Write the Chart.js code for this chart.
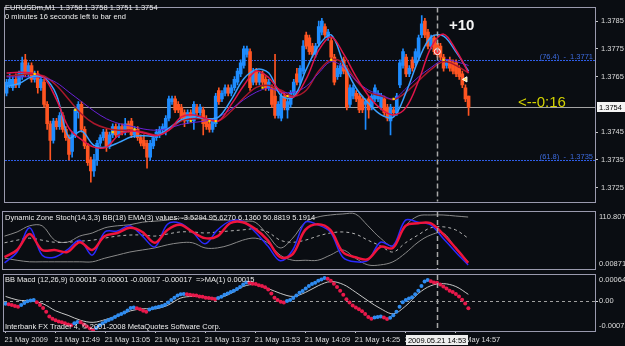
<!DOCTYPE html>
<html>
<head>
<meta charset="utf-8">
<script src="https://cdn.jsdelivr.net/npm/chart.js@4.4.1/dist/chart.umd.min.js"></script>
<style>
  html, body { margin: 0; padding: 0; background: #0a0d12; }
  #wrap { position: relative; width: 625px; height: 346px; overflow: hidden; background: #0a0d12; font-family: 'Liberation Sans', Arial, sans-serif; }
  #wrap canvas { position: absolute; left: 0; }
  .txt { position: absolute; white-space: nowrap; color: #ececec; font-size: 7.5px; line-height: 9px; pointer-events: none; }
</style>
</head>
<body>
<div id="wrap">
  <canvas id="priceChart" width="625" height="209" style="top:0"></canvas>
  <canvas id="stochChart" width="625" height="62" style="top:209px"></canvas>
  <canvas id="macdChart" width="625" height="75" style="top:271px"></canvas>
  <div class="txt" style="left:5px;top:3px">EURUSDm,M1&nbsp; 1.3758 1.3758 1.3751 1.3754</div>
  <div class="txt" style="left:5px;top:12px">0 minutes 16 seconds left to bar end</div>
  <div class="txt" style="left:449px;top:16px;font:bold 15px 'Liberation Sans',Arial,sans-serif;line-height:18px;color:#f4f4f4">+10</div>
  <div class="txt" style="left:518px;top:93px;font:15px 'Liberation Sans',Arial,sans-serif;line-height:18px;color:#d2d200">&lt;--0:16</div>
  <div class="txt" style="left:5px;top:213px">Dynamic Zone Stoch(14,3,3) BB(18) EMA(3) values: -3.5294 95.6270 6.1360 50.8819 5.1914</div>
  <div class="txt" style="left:5px;top:275px">BB Macd (12,26,9) 0.00015 -0.00001 -0.00017 -0.00017&nbsp; =&gt;MA(1) 0.00015</div>
  <div class="txt" style="left:5px;top:322px">Interbank FX Trader 4, © 2001-2008 MetaQuotes Software Corp.</div>
</div>
<script>
// EURUSDm M1, 21 May 2009, bars from 12:33
const barOpen = [
  1.3759, 1.3762, 1.3761, 1.3764, 1.3762, 1.3765, 1.3771, 1.3766, 1.3769, 1.3764,
  1.3766, 1.3761, 1.3763, 1.3755, 1.3748, 1.3742, 1.3749, 1.3747, 1.3751, 1.3746,
  1.3743, 1.3738, 1.3744, 1.3752, 1.3755, 1.3746, 1.3740, 1.3735, 1.3731, 1.3735,
  1.3741, 1.3743, 1.3745, 1.3740, 1.3744, 1.3747, 1.3744, 1.3747, 1.3745, 1.3748,
  1.3749, 1.3744, 1.3746, 1.3743, 1.3742, 1.3741, 1.3736, 1.3740, 1.3743, 1.3744,
  1.3746, 1.3746, 1.3750, 1.3756, 1.3757, 1.3755, 1.3754, 1.3752, 1.3749, 1.3752,
  1.3749, 1.3754, 1.3752, 1.3753, 1.3750, 1.3748, 1.3746, 1.3748, 1.3760, 1.3757,
  1.3759, 1.3761, 1.3759, 1.3761, 1.3763, 1.3766, 1.3769, 1.3773, 1.3774, 1.3763,
  1.3767, 1.3763, 1.3766, 1.3764, 1.3761, 1.3761, 1.3758, 1.3751, 1.3750, 1.3758,
  1.3753, 1.3755, 1.3759, 1.3766, 1.3763, 1.3767, 1.3780, 1.3779, 1.3776, 1.3773,
  1.3777, 1.3781, 1.3783, 1.3779, 1.3778, 1.3772, 1.3765, 1.3766, 1.3771, 1.3768,
  1.3755, 1.3758, 1.3759, 1.3758, 1.3757, 1.3755, 1.3757, 1.3754, 1.3757, 1.3757,
  1.3754, 1.3757, 1.3754, 1.3749, 1.3753, 1.3752, 1.3762, 1.3769, 1.3772, 1.3766,
  1.3771, 1.3770, 1.3772, 1.3780, 1.3785, 1.3781, 1.3776, 1.3779, 1.3777, 1.3776,
  1.3772, 1.3769, 1.3771, 1.3770, 1.3770, 1.3768, 1.3766, 1.3761, 1.3758
];
const barHigh = [
  1.3764, 1.3766, 1.3765, 1.3766, 1.3767, 1.3772, 1.3773, 1.3770, 1.3770, 1.3767,
  1.3767, 1.3765, 1.3764, 1.3756, 1.3749, 1.3750, 1.3750, 1.3752, 1.3752, 1.3747,
  1.3744, 1.3745, 1.3754, 1.3756, 1.3756, 1.3747, 1.3741, 1.3736, 1.3737, 1.3742,
  1.3744, 1.3746, 1.3746, 1.3745, 1.3748, 1.3748, 1.3748, 1.3748, 1.3750, 1.3749,
  1.3750, 1.3747, 1.3747, 1.3744, 1.3744, 1.3742, 1.3742, 1.3744, 1.3746, 1.3747,
  1.3748, 1.3751, 1.3758, 1.3758, 1.3758, 1.3756, 1.3755, 1.3753, 1.3753, 1.3753,
  1.3756, 1.3755, 1.3755, 1.3754, 1.3751, 1.3749, 1.3750, 1.3759, 1.3761, 1.3760,
  1.3762, 1.3762, 1.3762, 1.3765, 1.3768, 1.3771, 1.3776, 1.3776, 1.3775, 1.3768,
  1.3768, 1.3767, 1.3767, 1.3765, 1.3764, 1.3762, 1.3773, 1.3756, 1.3759, 1.3759,
  1.3757, 1.3760, 1.3764, 1.3768, 1.3769, 1.3778, 1.3781, 1.3780, 1.3777, 1.3777,
  1.3785, 1.3786, 1.3784, 1.3782, 1.3779, 1.3773, 1.3769, 1.3770, 1.3772, 1.3769,
  1.3762, 1.3762, 1.3760, 1.3759, 1.3758, 1.3757, 1.3758, 1.3759, 1.3762, 1.3760,
  1.3759, 1.3758, 1.3755, 1.3755, 1.3754, 1.3759, 1.3771, 1.3775, 1.3773, 1.3769,
  1.3772, 1.3775, 1.3780, 1.3787, 1.3786, 1.3782, 1.3780, 1.3780, 1.3778, 1.3777,
  1.3773, 1.3771, 1.3772, 1.3771, 1.3771, 1.3769, 1.3767, 1.3762, 1.3758
];
const barLow = [
  1.3758, 1.3761, 1.3760, 1.3761, 1.3761, 1.3764, 1.3765, 1.3765, 1.3763, 1.3763,
  1.3759, 1.3760, 1.3754, 1.3746, 1.3735, 1.3741, 1.3746, 1.3746, 1.3745, 1.3742,
  1.3735, 1.3736, 1.3743, 1.3750, 1.3745, 1.3739, 1.3733, 1.3727, 1.3729, 1.3733,
  1.3740, 1.3742, 1.3738, 1.3739, 1.3743, 1.3743, 1.3743, 1.3744, 1.3744, 1.3745,
  1.3743, 1.3743, 1.3742, 1.3740, 1.3739, 1.3732, 1.3735, 1.3739, 1.3742, 1.3743,
  1.3745, 1.3744, 1.3749, 1.3755, 1.3752, 1.3752, 1.3749, 1.3747, 1.3748, 1.3749,
  1.3746, 1.3751, 1.3751, 1.3744, 1.3746, 1.3745, 1.3745, 1.3747, 1.3755, 1.3756,
  1.3758, 1.3758, 1.3758, 1.3760, 1.3762, 1.3765, 1.3768, 1.3772, 1.3760, 1.3762,
  1.3762, 1.3762, 1.3762, 1.3760, 1.3760, 1.3754, 1.3750, 1.3750, 1.3749, 1.3753,
  1.3750, 1.3754, 1.3758, 1.3762, 1.3762, 1.3766, 1.3775, 1.3773, 1.3772, 1.3772,
  1.3776, 1.3780, 1.3779, 1.3778, 1.3771, 1.3762, 1.3764, 1.3765, 1.3766, 1.3753,
  1.3754, 1.3757, 1.3756, 1.3752, 1.3752, 1.3746, 1.3750, 1.3753, 1.3756, 1.3756,
  1.3753, 1.3751, 1.3749, 1.3744, 1.3751, 1.3751, 1.3761, 1.3768, 1.3765, 1.3765,
  1.3767, 1.3769, 1.3771, 1.3779, 1.3779, 1.3775, 1.3775, 1.3773, 1.3772, 1.3771,
  1.3767, 1.3768, 1.3767, 1.3766, 1.3765, 1.3764, 1.3761, 1.3756, 1.3751
];
const barClose = [
  1.3763, 1.3764, 1.3764, 1.3762, 1.3766, 1.3770, 1.3766, 1.3769, 1.3764, 1.3766,
  1.3761, 1.3764, 1.3755, 1.3748, 1.3742, 1.3749, 1.3747, 1.3751, 1.3746, 1.3743,
  1.3737, 1.3744, 1.3753, 1.3755, 1.3746, 1.3740, 1.3734, 1.3731, 1.3735, 1.3741,
  1.3743, 1.3745, 1.3740, 1.3744, 1.3747, 1.3744, 1.3747, 1.3745, 1.3748, 1.3746,
  1.3744, 1.3746, 1.3743, 1.3741, 1.3740, 1.3736, 1.3741, 1.3743, 1.3745, 1.3746,
  1.3747, 1.3750, 1.3757, 1.3757, 1.3753, 1.3753, 1.3750, 1.3749, 1.3752, 1.3750,
  1.3755, 1.3752, 1.3754, 1.3748, 1.3747, 1.3746, 1.3749, 1.3758, 1.3756, 1.3759,
  1.3761, 1.3759, 1.3761, 1.3764, 1.3767, 1.3770, 1.3775, 1.3775, 1.3761, 1.3767,
  1.3763, 1.3766, 1.3763, 1.3761, 1.3763, 1.3755, 1.3751, 1.3755, 1.3758, 1.3754,
  1.3756, 1.3759, 1.3763, 1.3763, 1.3768, 1.3776, 1.3776, 1.3774, 1.3773, 1.3776,
  1.3783, 1.3785, 1.3780, 1.3781, 1.3772, 1.3763, 1.3768, 1.3769, 1.3767, 1.3754,
  1.3761, 1.3761, 1.3757, 1.3753, 1.3753, 1.3756, 1.3753, 1.3758, 1.3761, 1.3759,
  1.3758, 1.3752, 1.3750, 1.3754, 1.3752, 1.3758, 1.3770, 1.3774, 1.3766, 1.3768,
  1.3768, 1.3774, 1.3779, 1.3784, 1.3780, 1.3776, 1.3779, 1.3774, 1.3773, 1.3772,
  1.3768, 1.3770, 1.3768, 1.3767, 1.3766, 1.3765, 1.3762, 1.3757, 1.3754
];

// moving averages, read every 4th bar (bar 0, 4, 8 ... 148)
const maFast = [
  1.37615, 1.37625, 1.37649, 1.37646, 1.37584, 1.37430, 1.37454, 1.37402, 1.37396, 1.37413,
  1.37433, 1.37437, 1.37437, 1.37464, 1.37495, 1.37505, 1.37498, 1.37505, 1.37567, 1.37642,
  1.37676, 1.37663, 1.37580, 1.37577, 1.37676, 1.37762, 1.37800, 1.37697, 1.37608, 1.37553,
  1.37512, 1.37505, 1.37594, 1.37711, 1.37793, 1.37796, 1.37738, 1.37670
];
const maMid = [
  1.37663, 1.37666, 1.37663, 1.37646, 1.37567, 1.37464, 1.37423, 1.37396, 1.37396, 1.37440,
  1.37454, 1.37447, 1.37437, 1.37457, 1.37505, 1.37512, 1.37498, 1.37491, 1.37550, 1.37618,
  1.37670, 1.37646, 1.37594, 1.37577, 1.37642, 1.37745, 1.37793, 1.37731, 1.37649, 1.37580,
  1.37533, 1.37512, 1.37539, 1.37635, 1.37755, 1.37803, 1.37745, 1.37663
];
const maSlow = [
  1.37652, 1.37656, 1.37659, 1.37652, 1.37618, 1.37567, 1.37515, 1.37481, 1.37464, 1.37457,
  1.37457, 1.37450, 1.37440, 1.37457, 1.37491, 1.37498, 1.37498, 1.37491, 1.37526, 1.37574,
  1.37611, 1.37618, 1.37601, 1.37580, 1.37601, 1.37670, 1.37711, 1.37697, 1.37635, 1.37594,
  1.37580, 1.37567, 1.37594, 1.37635, 1.37676, 1.37704, 1.37690, 1.37663
];
const maLong = [
  1.37649, 1.37649, 1.37649, 1.37646, 1.37628, 1.37594, 1.37560, 1.37526, 1.37498, 1.37481,
  1.37471, 1.37461, 1.37457, 1.37464, 1.37478, 1.37485, 1.37491, 1.37505, 1.37533, 1.37567,
  1.37594, 1.37608, 1.37594, 1.37594, 1.37615, 1.37663, 1.37704, 1.37683, 1.37635, 1.37601,
  1.37584, 1.37570, 1.37608, 1.37649, 1.37683, 1.37711, 1.37704, 1.37690
];
const crossBars = [9, 22, 34, 41, 59, 65, 67, 82, 90, 104, 124, 140];
const crossPrices = [1.3766, 1.3753, 1.3745, 1.3746, 1.3749, 1.3749, 1.3749, 1.3761, 1.3758, 1.3771, 1.3757, 1.3771];
const arrowBars = [138, 147];
const arrowPrices = [1.3774, 1.3764];

const fibNames = ['76.4', '61.8'];
const fibPrices = [1.3771, 1.3735];
const bidPrice = 1.3754;
const priceTicks = [1.3725, 1.3735, 1.3745, 1.3765, 1.3775, 1.3785];

// Dynamic Zone Stoch, every 4th bar
const stochMain = [
  12, 33, 80, 27, 23, 37, 56, 27, 72, 74, 84, 64, 43, 87, 89, 72, 49, 76, 93, 93,
  72, 45, 16, 37, 91, 86, 72, 23, 14, 17, 52, 45, 95, 91, 86, 60, 33, 8
];
const stochSignal = [
  23, 37, 68, 37, 37, 33, 52, 37, 64, 70, 80, 72, 51, 76, 86, 72, 60, 64, 89, 91,
  78, 56, 23, 29, 76, 87, 76, 33, 23, 19, 43, 41, 84, 89, 89, 68, 41, 12
];
const stochUpper = [
  64, 72, 84, 84, 56, 52, 64, 70, 80, 84, 86, 91, 93, 95, 99, 99, 97, 95, 95, 93,
  91, 66, 41, 60, 91, 101, 105, 107, 107, 84, 60, 45, 84, 103, 105, 105, 103, 101
];
const stochLower = [
  21, 17, 14, 14, 14, 14, 14, 14, 21, 27, 33, 37, 41, 47, 51, 51, 41, 41, 47, 56,
  60, 51, 27, 17, 17, 17, 27, 37, 21, 8, 8, 14, 31, 52, 66, 70, 41, 14
];
const stochMiddle = [
  51, 56, 60, 56, 52, 52, 54, 56, 60, 64, 66, 66, 64, 68, 72, 72, 70, 72, 74, 76,
  78, 72, 56, 52, 56, 64, 70, 72, 68, 56, 45, 33, 51, 66, 80, 82, 76, 60
];
const stochRange = [0.008719, 110.807];

// BB Macd, one value per bar
const macdValues = [
  -0.00006, -0.00007, -0.00009, -0.00011, -0.00013, -0.00009, -0.00004, 0.00000, 0.00002, 0.00003,
  -0.00002, -0.00009, -0.00016, -0.00025, -0.00037, -0.00042, -0.00046, -0.00049, -0.00051, -0.00053,
  -0.00056, -0.00058, -0.00053, -0.00050, -0.00051, -0.00056, -0.00061, -0.00066, -0.00070, -0.00065,
  -0.00058, -0.00053, -0.00049, -0.00045, -0.00042, -0.00038, -0.00034, -0.00031, -0.00027, -0.00022,
  -0.00016, -0.00015, -0.00017, -0.00019, -0.00023, -0.00025, -0.00020, -0.00017, -0.00015, -0.00013,
  -0.00011, -0.00008, -0.00003, 0.00003, 0.00009, 0.00014, 0.00017, 0.00018, 0.00017, 0.00016,
  0.00015, 0.00014, 0.00012, 0.00011, 0.00009, 0.00008, 0.00007, 0.00005, 0.00008, 0.00011,
  0.00016, 0.00019, 0.00023, 0.00026, 0.00030, 0.00035, 0.00041, 0.00046, 0.00045, 0.00043,
  0.00042, 0.00039, 0.00037, 0.00034, 0.00029, 0.00019, 0.00009, 0.00003, -0.00001, -0.00003,
  0.00001, 0.00003, 0.00008, 0.00014, 0.00021, 0.00025, 0.00031, 0.00037, 0.00042, 0.00045,
  0.00050, 0.00053, 0.00057, 0.00055, 0.00050, 0.00043, 0.00035, 0.00026, 0.00016, 0.00005,
  -0.00003, -0.00010, -0.00015, -0.00019, -0.00024, -0.00031, -0.00038, -0.00042, -0.00039, -0.00038,
  -0.00037, -0.00039, -0.00043, -0.00040, -0.00034, -0.00025, -0.00013, -0.00002, 0.00003, 0.00007,
  0.00010, 0.00017, 0.00026, 0.00037, 0.00048, 0.00052, 0.00049, 0.00046, 0.00045, 0.00041,
  0.00036, 0.00031, 0.00026, 0.00023, 0.00018, 0.00012, 0.00004, -0.00005, -0.00017
];
// its MA line, every 4th bar
const macdSignal = [
  0.00012, 0.00003, 0.00001, -0.00006, -0.00023, -0.00034, -0.00046, -0.00051, -0.00044, -0.00034,
  -0.00023, -0.00018, -0.00018, -0.00009, 0.00008, 0.00012, 0.00010, 0.00008, 0.00019, 0.00036,
  0.00041, 0.00031, 0.00019, 0.00012, 0.00022, 0.00038, 0.00048, 0.00041, 0.00022, 0.00001,
  -0.00018, -0.00030, -0.00011, 0.00019, 0.00038, 0.00043, 0.00036, 0.00017
];
const macdRange = [-0.00072, 0.00064];

const xTickLabels = [
  '21 May 2009', '21 May 12:49', '21 May 13:05', '21 May 13:21', '21 May 13:37',
  '21 May 13:53', '21 May 14:09', '21 May 14:25', '21 May 14:41', '21 May 14:57'
];
const tickEvery = 16;
const cursorBar = 138;
const cursorLabel = '2009.05.21 14:53';

// ---- layout helpers ----
const FONT = "'Liberation Sans', Arial, sans-serif";
const AXIS_TEXT = '#dcdcdc';
const FRAME = '#9a9aae';
const BULL = '#1e8cff';
const BEAR = '#ff5522';
const slotCount = 189; // bars + empty shift on the right

const categories = Array.from({ length: slotCount }, (_, i) => {
  const m = 12 * 60 + 33 + i;
  return String(Math.floor(m / 60)).padStart(2, '0') + ':' + String(m % 60).padStart(2, '0');
});
const every4 = values => {
  const out = new Array(barOpen.length).fill(null);
  values.forEach((v, k) => { out[k * 4] = v; });
  return out;
};
const atBars = (bars, values) => {
  const out = new Array(barOpen.length).fill(null);
  bars.forEach((b, k) => { out[b] = values[k]; });
  return out;
};

const hiddenX = {
  type: 'category', offset: true, display: false,
};
const rightAxis = extra => Object.assign({
  position: 'right',
  afterFit(scale) { scale.width = 30; },
  grid: { drawOnChartArea: false, drawTicks: true, tickLength: 3, color: '#c8c8c8' },
  border: { display: false },
}, extra);

const frame = {
  id: 'frame',
  afterDraw(chart) {
    const { ctx, chartArea: a } = chart;
    ctx.save();
    ctx.strokeStyle = FRAME;
    ctx.lineWidth = 1;
    ctx.strokeRect(Math.round(a.left) - 0.5, Math.round(a.top) - 0.5, Math.round(a.right - a.left) + 1, Math.round(a.bottom - a.top) + 1);
    ctx.restore();
  }
};

const cursorLine = {
  id: 'cursorLine',
  afterDatasetsDraw(chart) {
    const { ctx, chartArea: a } = chart;
    const x = Math.round(chart.scales.x.getPixelForValue(cursorBar)) + 0.5;
    ctx.save();
    ctx.strokeStyle = '#a8a8a8';
    ctx.lineWidth = 1.5;
    ctx.setLineDash([5, 3]);
    ctx.beginPath();
    ctx.moveTo(x, a.top);
    ctx.lineTo(x, a.bottom);
    ctx.stroke();
    ctx.restore();
  }
};

// side labels for the indicator windows: max at top, min at bottom
const sideLabels = (labels) => ({
  id: 'sideLabels',
  afterDraw(chart) {
    const { ctx, chartArea: a, scales: { y } } = chart;
    ctx.save();
    ctx.fillStyle = AXIS_TEXT;
    ctx.font = '7.5px ' + FONT;
    ctx.textAlign = 'left';
    labels.forEach(l => {
      const py = y.getPixelForValue(l.value);
      ctx.textBaseline = l.base;
      ctx.fillText(l.text, a.right + 4, l.base === 'top' ? py + 1 : l.base === 'bottom' ? py - 1 : py);
      if (l.tick) {
        ctx.fillRect(a.right + 1, Math.round(py), 2, 1);
      }
    });
    ctx.restore();
  }
});

const priceLevels = {
  id: 'priceLevels',
  beforeDatasetsDraw(chart) {
    const { ctx, chartArea: a, scales: { y } } = chart;
    ctx.save();
    fibPrices.forEach((p, k) => {
      const py = Math.round(y.getPixelForValue(p)) + 0.5;
      ctx.strokeStyle = '#2f5ee8';
      ctx.lineWidth = 1;
      ctx.setLineDash([2, 1]);
      ctx.beginPath();
      ctx.moveTo(a.left, py);
      ctx.lineTo(a.right, py);
      ctx.stroke();
      ctx.fillStyle = '#3d6ce0';
      ctx.font = '7.5px ' + FONT;
      ctx.textAlign = 'right';
      ctx.textBaseline = 'bottom';
      ctx.fillText('(' + fibNames[k] + ')  -  ' + p.toFixed(4), a.right - 2, py);
    });
    const by = Math.round(y.getPixelForValue(bidPrice)) + 0.5;
    ctx.setLineDash([]);
    ctx.strokeStyle = '#a4a4a4';
    ctx.beginPath();
    ctx.moveTo(a.left, by);
    ctx.lineTo(a.right, by);
    ctx.stroke();
    ctx.restore();
  },
  afterDraw(chart) {
    const { ctx, chartArea: a, scales: { y } } = chart;
    const by = Math.round(y.getPixelForValue(bidPrice));
    ctx.save();
    ctx.fillStyle = '#f4f4f4';
    ctx.fillRect(a.right + 2, by - 5, 28, 10);
    ctx.fillStyle = '#000';
    ctx.font = '7.5px ' + FONT;
    ctx.textAlign = 'left';
    ctx.textBaseline = 'middle';
    ctx.fillText(bidPrice.toFixed(4), a.right + 4, by + 0.5);
    ctx.restore();
  }
};

const cursorBox = {
  id: 'cursorBox',
  afterDraw(chart) {
    const { ctx, chartArea: a } = chart;
    const x = chart.scales.x.getPixelForValue(cursorBar);
    ctx.save();
    ctx.font = '7.5px ' + FONT;
    const w = ctx.measureText(cursorLabel).width + 4;
    ctx.fillStyle = '#eeeeee';
    ctx.fillRect(Math.round(x - w / 2), a.bottom + 4, Math.round(w), 10);
    ctx.fillStyle = '#000';
    ctx.textAlign = 'center';
    ctx.textBaseline = 'middle';
    ctx.fillText(cursorLabel, x, a.bottom + 9.5);
    ctx.restore();
  }
};

const common = {
  responsive: false,
  animation: false,
  events: [],
  plugins: { legend: { display: false }, tooltip: { enabled: false } },
};

// ---- price window ----
const candleColors = barOpen.map((o, i) => (barClose[i] >= o ? BULL : BEAR));
const lineSet = (data, color, width, order) => ({
  type: 'line', data: every4(data), borderColor: color, borderWidth: width,
  pointRadius: 0, spanGaps: true, tension: 0.35, order,
});

new Chart(document.getElementById('priceChart'), {
  type: 'bar',
  data: {
    labels: categories,
    datasets: [
      {
        type: 'line', data: atBars(crossBars, crossPrices), showLine: false,
        pointStyle: 'rect', pointRadius: 1.6, pointBackgroundColor: '#ffd700', pointBorderWidth: 0, order: 0,
      },
      {
        type: 'line', data: atBars(arrowBars, arrowPrices), showLine: false,
        pointStyle: ['circle', 'triangle'], rotation: [0, -90], pointRadius: 3,
        pointBackgroundColor: ['#ff3030', '#ffe066'], pointBorderColor: ['#ffffff', '#ffffff'], pointBorderWidth: 1, order: 0,
      },
      lineSet(maMid, '#e0154a', 1.5, 1),
      lineSet(maFast, '#3aa0ff', 1.5, 2),
      lineSet(maLong, '#6a22d8', 1, 3),
      lineSet(maSlow, '#a8182c', 1.5, 4),
      {
        type: 'bar', data: barOpen.map((o, i) => [o, barClose[i]]), backgroundColor: candleColors,
        barThickness: 3, grouped: false, minBarLength: 1, order: 5,
      },
      {
        type: 'bar', data: barLow.map((l, i) => [l, barHigh[i]]), backgroundColor: candleColors,
        barThickness: 1, grouped: false, order: 6,
      },
    ],
  },
  options: Object.assign({}, common, {
    layout: { padding: { left: 3, top: 3, bottom: 2, right: 0 } },
    scales: {
      x: hiddenX,
      y: rightAxis({
        min: 1.37200, max: 1.37899,
        afterBuildTicks(scale) { scale.ticks = priceTicks.map(v => ({ value: v })); },
        ticks: { color: AXIS_TEXT, font: { size: 7.5, family: FONT }, padding: 3, callback: v => v.toFixed(4) },
      }),
    },
  }),
  plugins: [priceLevels, frame, cursorLine],
});

// ---- stochastic window ----
new Chart(document.getElementById('stochChart'), {
  type: 'line',
  data: {
    labels: categories,
    datasets: [
      { data: every4(stochSignal), borderColor: '#f0143c', borderWidth: 2.5, pointRadius: 0, spanGaps: true, tension: 0.35, order: 0 },
      { data: every4(stochMain), borderColor: '#2a2aff', borderWidth: 1.5, pointRadius: 0, spanGaps: true, tension: 0.35, order: 1 },
      { data: every4(stochMiddle), borderColor: '#b4b4b4', borderWidth: 1, borderDash: [3, 3], pointRadius: 0, spanGaps: true, tension: 0.35, order: 2 },
      { data: every4(stochUpper), borderColor: '#8a8a8a', borderWidth: 1, pointRadius: 0, spanGaps: true, tension: 0.35, order: 3 },
      { data: every4(stochLower), borderColor: '#8a8a8a', borderWidth: 1, pointRadius: 0, spanGaps: true, tension: 0.35, order: 3 },
    ],
  },
  options: Object.assign({}, common, {
    layout: { padding: { left: 3, top: 3, bottom: 2, right: 0 } },
    scales: {
      x: hiddenX,
      y: rightAxis({ min: stochRange[0], max: stochRange[1], ticks: { display: false }, grid: { display: false } }),
    },
  }),
  plugins: [frame, cursorLine, sideLabels([
    { value: stochRange[1], text: '110.807', base: 'top' },
    { value: stochRange[0], text: '0.008719', base: 'bottom' },
  ])],
});

// ---- MACD window ----
const macdColors = macdValues.map((v, i) => (i === 0 || v >= macdValues[i - 1] ? '#2f8cf0' : '#e8194b'));
const zeroLine = {
  id: 'zeroLine',
  beforeDatasetsDraw(chart) {
    const { ctx, chartArea: a, scales: { y } } = chart;
    const py = Math.round(y.getPixelForValue(0)) + 0.5;
    ctx.save();
    ctx.strokeStyle = '#a0a0a0';
    ctx.setLineDash([3, 3]);
    ctx.beginPath();
    ctx.moveTo(a.left, py);
    ctx.lineTo(a.right, py);
    ctx.stroke();
    ctx.restore();
  }
};

new Chart(document.getElementById('macdChart'), {
  type: 'line',
  data: {
    labels: categories,
    datasets: [
      { data: macdValues, showLine: false, pointRadius: 2, pointBorderWidth: 0, pointBackgroundColor: macdColors, order: 0 },
      { data: every4(macdSignal), borderColor: '#c8c8c8', borderWidth: 1, pointRadius: 0, spanGaps: true, tension: 0.35, order: 1 },
    ],
  },
  options: Object.assign({}, common, {
    layout: { padding: { left: 3, top: 2, bottom: 0, right: 0 } },
    scales: {
      x: {
        type: 'category', offset: true,
        afterFit(scale) { scale.height = 15; },
        grid: { drawOnChartArea: false, drawTicks: true, tickLength: 2, color: '#c8c8c8', offset: false },
        border: { display: false },
        ticks: {
          autoSkip: false, maxRotation: 0, align: 'start', padding: 2, labelOffset: -1,
          color: AXIS_TEXT, font: { size: 7.5, family: FONT },
          callback: (v, i) => (i % tickEvery === 0 && i / tickEvery < xTickLabels.length ? xTickLabels[i / tickEvery] : null),
        },
      },
      y: rightAxis({ min: macdRange[0], max: macdRange[1], ticks: { display: false }, grid: { display: false } }),
    },
  }),
  plugins: [zeroLine, frame, cursorLine, cursorBox, sideLabels([
    { value: macdRange[1], text: '0.00064', base: 'top' },
    { value: 0, text: '0.00', base: 'middle', tick: true },
    { value: macdRange[0], text: '-0.00072', base: 'bottom' },
  ])],
});
</script>
</body>
</html>
